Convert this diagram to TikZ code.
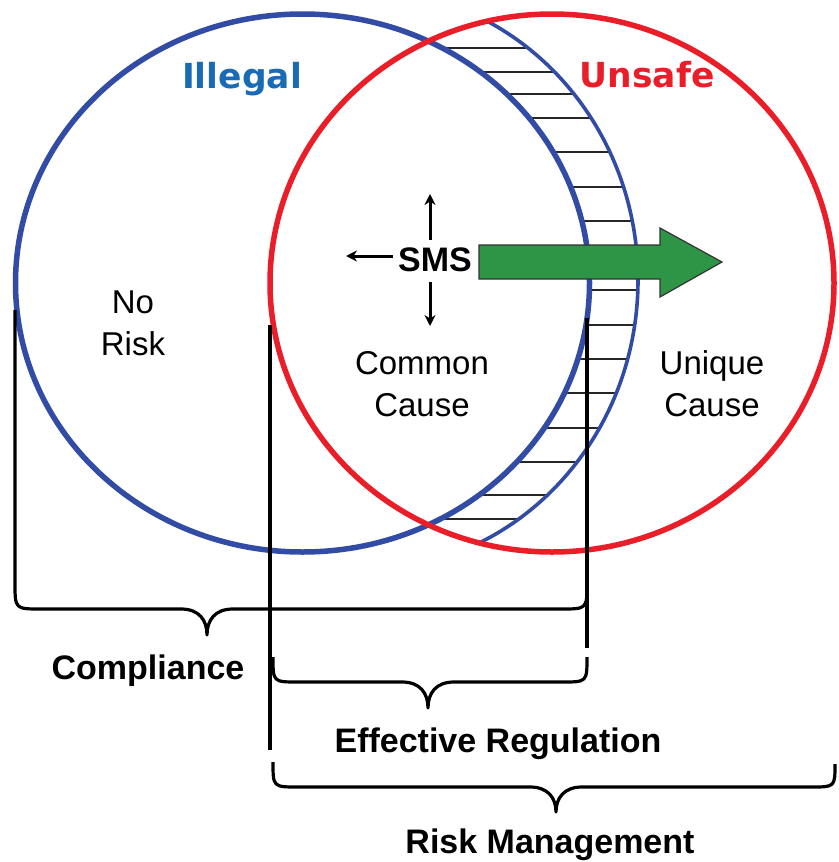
\documentclass[tikz,border=0pt]{standalone}
\usepackage{fontspec}
\setmainfont{Liberation Sans}
\newfontfamily\titlefont{DejaVu Sans}
\usetikzlibrary{arrows.meta}
\definecolor{cblue}{RGB}{50,76,165}
\definecolor{cred}{RGB}{234,30,40}
\definecolor{tblue}{RGB}{25,107,182}
\definecolor{cgreen}{RGB}{46,148,70}
\begin{document}
\begin{tikzpicture}[x=1pt,y=-1pt,
  ring/.style={line width=5.5pt},
  hatchline/.style={line width=1.4pt, black!85},
  bracket/.style={line width=3.2pt, black, line join=round},
  smsarrow/.style={line width=3pt, -{Stealth[length=11pt,width=11pt]}},
  lbl/.style={inner sep=0pt, anchor=base, font=\fontsize{33}{40}\selectfont},
  blbl/.style={inner sep=0pt, anchor=base, font=\bfseries\fontsize{34}{40}\selectfont},
  ttl/.style={inner sep=0pt, anchor=base, font=\titlefont\bfseries\fontsize{34.5}{40}\selectfont}]
\useasboundingbox (0,0) rectangle (838,862);
\fill[white] (0,0) rectangle (838,862);

% hatch lines in the crescent
\foreach \yy in {48,72,94,118,152,187,221,290,325,359,393,428,462,495,519}{
  \pgfmathsetmacro\xs{302.5+287*sqrt(1-((\yy-283)/269)^2)}
  \pgfmathsetmacro\xe{363+275*sqrt(1-((\yy-280)/290)^2)}
  \draw[hatchline] (\xs,\yy) -- (\xe,\yy);
}
% thin outer arc of the crescent
\begin{scope}
  \clip (552,283) ellipse [x radius=282pt, y radius=269pt];
  \draw[cblue, line width=3.6pt] (363,280) ellipse [x radius=275pt, y radius=290pt];
\end{scope}

% the two rings
\draw[ring, cblue] (302.5,283) ellipse [x radius=287pt, y radius=269pt];
\draw[ring, cred] (552,283) ellipse [x radius=282pt, y radius=269pt];

% brackets
\draw[bracket] (15,310) -- (15,583) .. controls (15,609) .. (41,609) -- (181,609)
  .. controls (199,609) and (207,620) .. (207,635)
  .. controls (207,620) and (215,609) .. (233,609) -- (561,609)
  .. controls (587,609) .. (587,583);
\draw[bracket] (587,318) -- (587,648);
\draw[bracket] (270,325) -- (270,750);
\draw[bracket] (273,657) .. controls (273,682) .. (298,682) -- (402,682)
  .. controls (420,682) and (428,693) .. (428,708)
  .. controls (428,693) and (436,682) .. (454,682) -- (562,682)
  .. controls (587,682) .. (587,657);
\draw[bracket] (273,762) .. controls (273,787) .. (298,787) -- (530,787)
  .. controls (548,787) and (556,798) .. (556,812)
  .. controls (556,798) and (564,787) .. (582,787) -- (811,787)
  .. controls (835,787) .. (835,764);

% green arrow
\filldraw[fill=cgreen, draw=black!80, line width=1.2pt]
  (479,245) -- (660,245) -- (660,228) -- (722,262) -- (660,297) -- (660,279) -- (479,279) -- cycle;

% texts
\node[ttl, text=tblue] (illegal) at (242,88) {Illegal};
\node[ttl, text=cred] (unsafe) at (647,87) {Unsafe};
\node[lbl] (no) at (133,313) {No};
\node[lbl] (risk) at (133,355) {Risk};
\node[lbl] (common) at (422,374) {Common};
\node[lbl] (cause1) at (422,416) {Cause};
\node[lbl] (unique) at (712,374) {Unique};
\node[lbl] (cause2) at (712,416) {Cause};
\node[blbl] (sms) at (435,271) {SMS};
\node[blbl] (compliance) at (148,679) {Compliance};
\node[blbl] (effreg) at (498,752) {Effective Regulation};
\node[blbl] (riskman) at (550,853) {Risk Management};

% SMS arrows
\coordinate (uptail) at (430,240);
\coordinate (uphead) at (430,194);
\coordinate (dntail) at (430,282);
\coordinate (dnhead) at (430,326);
\coordinate (lftail) at (393,256);
\coordinate (lfhead) at (346,256);
\draw[smsarrow] (uptail) -- (uphead);
\draw[smsarrow] (dntail) -- (dnhead);
\draw[smsarrow] (lftail) -- (lfhead);
\end{tikzpicture}
\end{document}
